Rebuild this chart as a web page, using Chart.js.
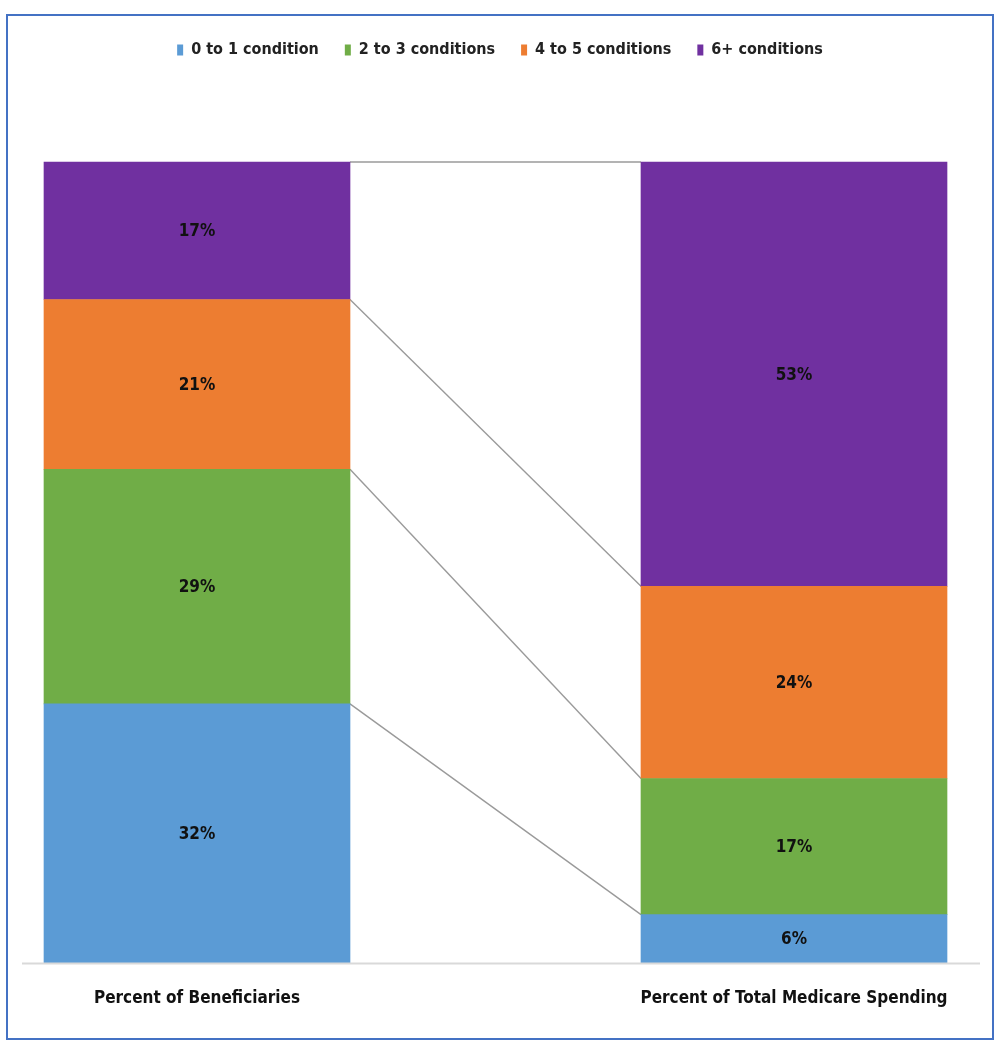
<!DOCTYPE html>
<html>
<head>
<meta charset="utf-8">
<title>Chronic conditions and Medicare spending</title>
<script src="https://cdn.jsdelivr.net/npm/chart.js@4.4.1/dist/chart.umd.min.js"></script>
<style>
  html, body { margin: 0; padding: 0; background: #fff; }
  .frame {
    position: absolute; left: 6px; top: 14px;
    width: 984px; height: 1022px;
    border: 2px solid #4472C4;
  }
  canvas { display: block; }
</style>
</head>
<body>
<div class="frame"><canvas id="chart" width="984" height="1022"></canvas></div>
<script>
// -------- Data ----------
const CATEGORIES = ["Percent of Beneficiaries", "Percent of Total Medicare Spending"];
const SERIES_NAMES = ["0 to 1 condition", "2 to 3 conditions", "4 to 5 conditions", "6+ conditions"];
const COND_0_1 = [32, 6];
const COND_2_3 = [29, 17];
const COND_4_5 = [21, 24];
const COND_6_UP = [17, 53];
const COLORS = ["#5B9BD5", "#70AD47", "#ED7D31", "#7030A0"];

const FONT = "'Liberation Sans Narrow', 'DejaVu Sans Condensed', 'Open Sans', sans-serif";

// 100% stacked: each column is scaled to its own total
const RAW = [COND_0_1, COND_2_3, COND_4_5, COND_6_UP];
const totals = CATEGORIES.map((_, i) => RAW.reduce((s, arr) => s + arr[i], 0));
const share = (arr) => arr.map((v, i) => v / totals[i] * 100);

// -------- Plugins ----------
// grey connector lines between the tops of matching segments
const seriesLines = {
  id: "seriesLines",
  beforeDatasetsDraw(chart) {
    const ctx = chart.ctx;
    ctx.save();
    ctx.strokeStyle = "#9A9A9A";
    ctx.lineWidth = 1.4;
    chart.data.datasets.forEach((ds, di) => {
      const bars = chart.getDatasetMeta(di).data;
      const a = bars[0], b = bars[1];
      ctx.beginPath();
      ctx.moveTo(a.x + a.width / 2, a.y);
      ctx.lineTo(b.x - b.width / 2, b.y);
      ctx.stroke();
    });
    ctx.restore();
  }
};

// value labels in the middle of each segment
const segLabels = {
  id: "segLabels",
  afterDatasetsDraw(chart) {
    const ctx = chart.ctx;
    ctx.save();
    ctx.font = `bold 17px ${FONT}`;
    ctx.fillStyle = "#111";
    ctx.textAlign = "center";
    ctx.textBaseline = "middle";
    chart.data.datasets.forEach((ds, di) => {
      chart.getDatasetMeta(di).data.forEach((bar, i) => {
        ctx.fillText(RAW[di][i] + "%", bar.x, (bar.y + bar.base) / 2 + 1);
      });
    });
    ctx.restore();
  }
};

// long light axis line under both columns
const baseLine = {
  id: "baseLine",
  afterDatasetsDraw(chart) {
    const ctx = chart.ctx;
    const y = chart.scales.y.getPixelForValue(0);
    ctx.save();
    ctx.strokeStyle = "#D9D9D9";
    ctx.lineWidth = 2;
    ctx.beginPath();
    ctx.moveTo(14, y + 1);
    ctx.lineTo(chart.width - 12, y + 1);
    ctx.stroke();
    ctx.restore();
  }
};

// keep the legend block tall so the plot starts lower
const legendHeight = {
  id: "legendHeight",
  afterInit(chart) {
    const fit = chart.legend.fit;
    chart.legend.fit = function () {
      fit.bind(chart.legend)();
      this.height = 146;
    };
  }
};

// -------- Chart ----------
new Chart(document.getElementById("chart").getContext("2d"), {
  type: "bar",
  data: {
    labels: CATEGORIES,
    datasets: RAW.map((arr, i) => ({
      label: SERIES_NAMES[i],
      data: share(arr),
      backgroundColor: COLORS[i],
      borderWidth: 0,
      barThickness: 306,
      clip: false
    }))
  },
  options: {
    responsive: false,
    animation: false,
    layout: { padding: { left: 0, right: 0, top: 0, bottom: 11 } },
    plugins: {
      legend: {
        position: "top",
        labels: {
          boxWidth: 6,
          boxHeight: 11,
          padding: 26,
          color: "#222",
          font: { family: FONT, size: 16, weight: "bold" }
        }
      },
      tooltip: { enabled: false }
    },
    scales: {
      x: {
        stacked: true,
        offset: false,
        grid: { display: false },
        border: { display: false },
        ticks: {
          padding: 18,
          color: "#111",
          font: { family: FONT, size: 17, weight: "bold" },
          maxRotation: 0,
          autoSkip: false
        }
      },
      y: {
        stacked: true,
        min: 0,
        max: 100,
        grid: { display: false },
        border: { display: false },
        ticks: { display: false },
        afterFit(scale) { scale.width = 189; }
      },
      // empty right-hand spacer so the second column sits where it should
      yRight: {
        position: "right",
        min: 0,
        max: 1,
        grid: { display: false },
        border: { display: false },
        ticks: { display: false },
        afterFit(scale) { scale.width = 198; }
      }
    }
  },
  plugins: [seriesLines, segLabels, baseLine, legendHeight]
});
</script>
</body>
</html>
